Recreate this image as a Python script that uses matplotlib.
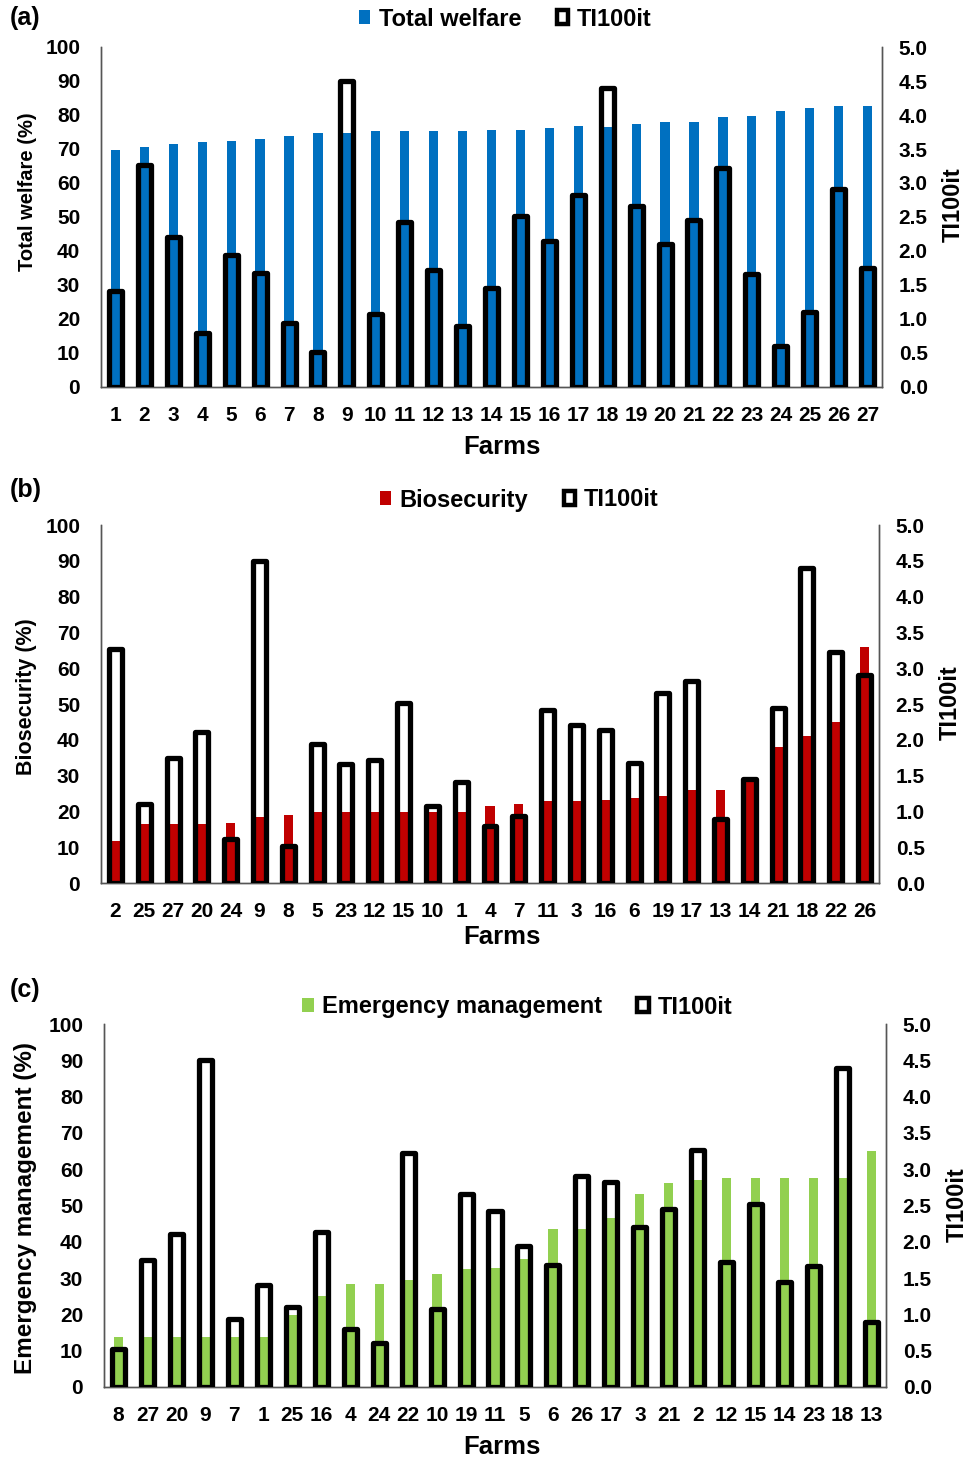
import matplotlib
matplotlib.use("Agg")
import matplotlib.pyplot as plt
from matplotlib.patches import Patch
import numpy as np

plt.rcParams['font.family'] = ['Liberation Sans', 'DejaVu Sans']
plt.rcParams['font.weight'] = 'bold'

# ---------------- data ----------------
farms_a = list(range(1, 28))
# TI100it per farm (farm 1..27)
ti100it = [1.41, 3.27, 2.20, 0.80, 1.94, 1.68, 0.94, 0.52, 4.50, 1.08, 2.42, 1.72, 0.90, 1.45,
           2.52, 2.14, 2.82, 4.40, 2.66, 2.11, 2.45, 3.22, 1.66, 0.61, 1.10, 2.91, 1.75]
total_welfare = [69.6, 70.6, 71.6, 72.1, 72.5, 73.0, 73.9, 74.8, 74.8, 75.2, 75.2, 75.2, 75.2, 75.7,
                 75.7, 76.2, 76.7, 76.5, 77.5, 77.9, 77.9, 79.4, 79.8, 81.3, 82.2, 82.6, 82.6]

farms_b = [2, 25, 27, 20, 24, 9, 8, 5, 23, 12, 15, 10, 1, 4, 7, 11, 3, 16, 6, 19, 17, 13, 14, 21, 18, 22, 26]
biosecurity = [11.7, 16.6, 16.6, 16.6, 16.8, 18.3, 18.9, 19.8, 19.8, 19.8, 19.8, 19.8, 19.8, 21.5,
               22.0, 22.9, 22.9, 23.3, 23.8, 24.2, 25.9, 25.9, 28.7, 38.0, 41.1, 45.1, 66.0]

farms_c = [8, 27, 20, 9, 7, 1, 25, 16, 4, 24, 22, 10, 19, 11, 5, 6, 26, 17, 3, 21, 2, 12, 15, 14, 23, 18, 13]
emergency = [13.8, 13.8, 13.8, 13.8, 13.8, 13.8, 19.8, 25.0, 28.5, 28.5, 29.4, 31.1, 32.5, 32.9,
             35.2, 43.5, 43.5, 46.5, 53.1, 56.1, 57.0, 57.5, 57.5, 57.5, 57.5, 57.5, 64.9]

left_ticks = list(range(0, 101, 10))
right_ticks = [0.0, 0.5, 1.0, 1.5, 2.0, 2.5, 3.0, 3.5, 4.0, 4.5, 5.0]

panels = [
    dict(tag="(a)", farms=farms_a, vals=total_welfare, color="#0070C0",
         name="Total welfare", ylabel="Total welfare (%)", ylsize=14.5, yly=192, tiy=205,
         rect=[101, 882, 47, 387], label_y=18, leg=(505, 19), farms_y=447),
    dict(tag="(b)", farms=farms_b, vals=biosecurity, color="#C00000",
         name="Biosecurity", ylabel="Biosecurity (%)", ylsize=15.5, yly=697, tiy=703,
         rect=[101, 879, 525, 883], label_y=490, leg=(519, 500), farms_y=937),
    dict(tag="(c)", farms=farms_c, vals=emergency, color="#92D050",
         name="Emergency management", ylabel="Emergency management (%)", ylsize=17.5, yly=1208, tiy=1205,
         rect=[104, 886, 1024, 1387], label_y=990, leg=(517, 1007), farms_y=1447),
]

W, H = 969, 1462
fig = plt.figure(figsize=(W / 100, H / 100), dpi=100)

for p in panels:
    l, r, t, b = p["rect"]
    ax = fig.add_axes([l / W, 1 - b / H, (r - l) / W, (b - t) / H])
    ax2 = ax.twinx()
    x = np.arange(len(p["farms"]))
    ti_vals = [ti100it[f - 1] for f in p["farms"]]

    ax.bar(x, p["vals"], width=0.32, color=p["color"], zorder=2)
    ax2.bar(x, ti_vals, width=0.45, facecolor="none", edgecolor="black",
            linewidth=3.8, joinstyle="round", zorder=3)

    ax.set_xlim(-0.5, len(x) - 0.5)
    ax.set_ylim(0, 100)
    ax2.set_ylim(0, 5)
    ax.set_yticks(left_ticks)
    ax2.set_yticks(right_ticks)
    ax2.set_yticklabels([f"{v:.1f}" for v in right_ticks])
    ax.set_xticks(x)
    ax.set_xticklabels([str(f) for f in p["farms"]])

    for a in (ax, ax2):
        a.spines["top"].set_visible(False)
        a.tick_params(length=0, labelsize=15)
        for s in ("left", "right", "bottom"):
            a.spines[s].set_color("#555555")
            a.spines[s].set_linewidth(1.0)
    ax.tick_params(axis="y", pad=15)
    ax.tick_params(axis="x", pad=14)
    ax2.tick_params(axis="y", pad=12)
    for lab in ax.get_xticklabels() + ax.get_yticklabels() + ax2.get_yticklabels():
        lab.set_fontweight("bold")

    ax.set_ylabel(p["ylabel"], fontsize=p["ylsize"], fontweight="bold")
    ax.yaxis.set_label_coords((37 - l) / (r - l), (b - p["yly"]) / (b - t))
    ax2.set_ylabel("TI100it", fontsize=17, fontweight="bold", labelpad=10,
                   y=(b - p["tiy"]) / (b - t))

    fig.text(502 / W, 1 - p["farms_y"] / H, "Farms", ha="center", va="center",
             fontsize=18.5, fontweight="bold")
    fig.text(10 / W, 1 - p["label_y"] / H, p["tag"], ha="left", va="center",
             fontsize=18, fontweight="bold")

    h1 = Patch(facecolor=p["color"], edgecolor="none")
    h2 = Patch(facecolor="white", edgecolor="black", linewidth=3.2)
    fig.legend([h1, h2], [p["name"], "TI100it"], loc="center",
               bbox_to_anchor=(p["leg"][0] / W, 1 - p["leg"][1] / H), ncol=2,
               frameon=False, handlelength=0.5, handleheight=0.5, handletextpad=0.35,
               columnspacing=1.5, prop=dict(size=17, weight="bold"))

fig.savefig("out.png", dpi=100)
